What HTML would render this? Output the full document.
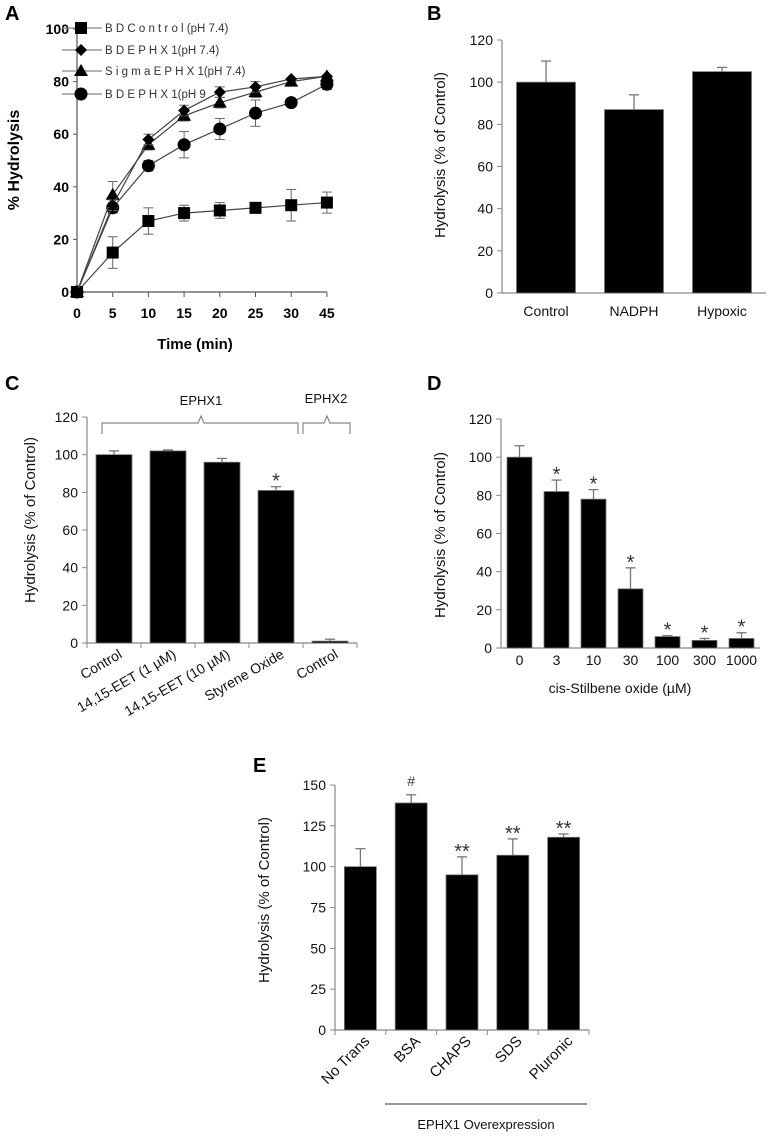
<!DOCTYPE html>
<html><head><meta charset="utf-8"><style>
body{margin:0;background:#fff}
svg{display:block;font-family:"Liberation Sans",Arial,sans-serif}
</style></head><body>
<svg id="s" width="768" height="1137" viewBox="0 0 768 1137"></svg>
<script>
// Panel A data
const aTimes=["0","5","10","15","20","25","30","45"];
const aControl=[0,15,27,30,31,32,33,34];
const aControlErr=[0,6,5,3,3,2,6,4];
const aEphx74=[0,33,58,69,76,78,81,82];
const aEphx74Err=[0,2,2,2,2,2,1,1];
const aSigma=[0,37,56,67,72,76,80,82];
const aSigmaErr=[0,5,2,2,2,2,1,1];
const aPh9=[0,32,48,56,62,68,72,79];
const aPh9Err=[0,2,2,5,4,5,1,2];
const aTicks=[0,20,40,60,80,100];
// Panel B
const bCats=["Control","NADPH","Hypoxic"];
const bVals=[100,87,105];
const bErr=[10,7,2];
const bTicks=[0,20,40,60,80,100,120];
// Panel C
const cCats=["Control","14,15-EET (1 µM)","14,15-EET (10 µM)","Styrene Oxide","Control"];
const cVals=[100,102,96,81,1];
const cErr=[2,0.5,2,2,1];
const cStar=["","","","*",""];
// Panel D
const dCats=["0","3","10","30","100","300","1000"];
const dVals=[100,82,78,31,6,4,5];
const dErr=[6,6,5,11,0.5,1,3];
const dStar=["","*","*","*","*","*","*"];
// Panel E
const eCats=["No Trans","BSA","CHAPS","SDS","Pluronic"];
const eVals=[100,139,95,107,118];
const eErr=[11,5,11,10,2];
const eStar=["","#","**","**","**"];
const eTicks=[0,25,50,75,100,125,150];

const S=document.getElementById('s');
const NS='http://www.w3.org/2000/svg';
function mk(tag,at,parent){const e=document.createElementNS(NS,tag);for(const k in at)e.setAttribute(k,at[k]);(parent||S).appendChild(e);return e;}
function txt(x,y,t,at,parent){const e=mk('text',Object.assign({x:x,y:y},at),parent);e.textContent=t;return e;}

function panelLabel(x,y,t){const e=txt(x,y,t,{'font-size':20,'font-weight':'bold'});

}

// ---------- Panel A ----------
(function(){
const g=mk('g',{});


const y0=292,yTop=29,x0=77,dx=35.7;
const Y=v=>y0-(v/100)*(y0-yTop);
const X=i=>x0+i*dx;
panelLabel(5,20,'A');
mk('line',{x1:x0,y1:24,x2:x0,y2:y0,stroke:'#555','stroke-width':1.2},g);
mk('line',{x1:x0,y1:y0,x2:X(7),y2:y0,stroke:'#555','stroke-width':1.2},g);
aTicks.forEach(t=>{mk('line',{x1:x0-4,y1:Y(t),x2:x0,y2:Y(t),stroke:'#555'},g);
const e=txt(x0-8,Y(t)+5,t,{'font-size':14,'font-weight':'bold','text-anchor':'end'},g);
});
aTimes.forEach((t,i)=>{mk('line',{x1:X(i),y1:y0,x2:X(i),y2:y0+5,stroke:'#555'},g);
const e=txt(X(i),y0+26,t,{'font-size':14,'font-weight':'bold','text-anchor':'middle'},g);
});
let e=txt(195,349,'Time (min)',{'font-size':15,'font-weight':'bold','text-anchor':'middle'},g);

e=txt(0,0,'% Hydrolysis',{'font-size':16,'font-weight':'bold','text-anchor':'middle',transform:'translate(19,160) rotate(-90)'},g);

function marker(shape,x,y,par){
 if(shape==='sq')return mk('rect',{x:x-6,y:y-6,width:12,height:12,fill:'#000'},par);
 if(shape==='ci')return mk('circle',{cx:x,cy:y,r:6.5,fill:'#000'},par);
 if(shape==='tr')return mk('polygon',{points:`${x},${y-7} ${x+7},${y+5} ${x-7},${y+5}`,fill:'#000'},par);
 return mk('polygon',{points:`${x},${y-6} ${x+6},${y} ${x},${y+6} ${x-6},${y}`,fill:'#000'},par);}
const series=[[aControl,aControlErr,'sq','series-bd-control'],[aPh9,aPh9Err,'ci','series-bd-ephx1-ph9'],[aSigma,aSigmaErr,'tr','series-sigma-ephx1'],[aEphx74,aEphx74Err,'di','series-bd-ephx1']];
series.forEach(([v,er,sh,name])=>{
 const sg=mk('g',{},g);
 
 
 mk('polyline',{points:v.map((d,i)=>X(i)+','+Y(d)).join(' '),fill:'none',stroke:'#444','stroke-width':1.2},sg);
 v.forEach((d,i)=>{if(er[i]>1){mk('line',{x1:X(i),y1:Y(d-er[i]),x2:X(i),y2:Y(d+er[i]),stroke:'#666'},sg);
  [d-er[i],d+er[i]].forEach(q=>mk('line',{x1:X(i)-5,y1:Y(q),x2:X(i)+5,y2:Y(q),stroke:'#666'},sg));}
  const m=marker(sh,X(i),Y(d),sg);
  
  });
});
const leg=[['sq','B D C o n t r o l (pH 7.4)',28],['di','B D E P H X 1(pH 7.4)',50],['tr','S i g m a E P H X 1(pH 7.4)',71],['ci','B D E P H X 1(pH 9',94]];
leg.forEach(([sh,t,y])=>{const lg=mk('g',{},g);
 
 
 mk('line',{x1:62,y1:y,x2:102,y2:y,stroke:'#888','stroke-width':1.2},lg);
 marker(sh,81,y,lg);
 txt(105,y+4,t,{'font-size':11.5,fill:'#333'},lg);});
})();

// ---------- generic bar chart ----------
function barChart(o){
 const g=mk('g',{});
 
 
 const Y=v=>o.y0-(v/o.max)*(o.y0-o.yTop);
 mk('line',{x1:o.x0,y1:o.yTop,x2:o.x0,y2:o.y0,stroke:'#888','stroke-width':1.2},g);
 mk('line',{x1:o.x0,y1:o.y0,x2:o.xEnd,y2:o.y0,stroke:'#888','stroke-width':1.2},g);
 o.ticks.forEach(t=>{mk('line',{x1:o.x0-5,y1:Y(t),x2:o.x0,y2:Y(t),stroke:'#888'},g);
  const e=txt(o.x0-9,Y(t)+5,t,{'font-size':14,'text-anchor':'end',fill:'#111'},g);
  });
 const n=o.vals.length;const step=(o.xEnd-o.x0)/n;
 if(o.cats){for(let i=0;i<=n;i++)if(o.xticks)mk('line',{x1:o.x0+i*step,y1:o.y0,x2:o.x0+i*step,y2:o.y0+5,stroke:'#888'},g);}
 o.vals.forEach((v,i)=>{
  const cx=o.x0+(i+0.5)*step,w=o.bw;
  const r=mk('rect',{x:cx-w/2,y:Y(v),width:w,height:o.y0-Y(v),fill:'#000',stroke:'#777','stroke-width':0.8},g);
  
  
  const er=o.err[i];
  if(er>0){mk('line',{x1:cx,y1:Y(v),x2:cx,y2:Y(v+er),stroke:'#777','stroke-width':1.3},g);
   mk('line',{x1:cx-5,y1:Y(v+er),x2:cx+5,y2:Y(v+er),stroke:'#777','stroke-width':1.3},g);}
  if(o.stars&&o.stars[i]){const e=txt(cx,Y(v+er)-5+(o.stars[i]==='#'?-4:6),o.stars[i],{'font-size':o.stars[i]==='#'?14:20,'text-anchor':'middle',fill:'#333'},g);
   }
  if(o.cats){let e;
   if(o.rot){e=txt(0,0,o.cats[i],{'font-size':o.fs||13,'text-anchor':'end',fill:'#111',transform:`translate(${cx+o.rdx},${o.y0+o.rdy}) rotate(${o.rot})`},g);}
   else e=txt(cx,o.y0+o.ly,o.cats[i],{'font-size':14,'text-anchor':'middle',fill:'#111'},g);
   }
 });
 const t=txt(0,0,o.ytitle,{'font-size':15,'text-anchor':'middle',fill:'#111',transform:`translate(${o.tx},${o.ty}) rotate(-90)`},g);
 
 return g;
}

panelLabel(427,20,'B');
barChart({name:'panel-b-bar-chart',x0:502,xEnd:766,y0:293,yTop:40,max:120,ticks:bTicks,vals:bVals,err:bErr,cats:bCats,bw:59,ly:23,ytitle:'Hydrolysis (% of Control)',tx:445,ty:155});

panelLabel(5,390,'C');
const gc=barChart({name:'panel-c-bar-chart',x0:87,xEnd:357,y0:643,yTop:417,max:120,ticks:bTicks,vals:cVals,err:cErr,stars:cStar,cats:cCats,bw:36,xticks:true,rot:-30,rdx:9,rdy:14,fs:14,ytitle:'Hydrolysis (% of Control)',tx:35,ty:520});
(function(){
 const b=mk('g',{},gc);
 
 
 mk('path',{d:'M102,434 L102,423 L198,423 L201,416 L204,423 L298,423 L298,434',fill:'none',stroke:'#888','stroke-width':1.2},b);
 mk('path',{d:'M303,434 L303,423 L324,423 L327,416 L330,423 L350,423 L350,434',fill:'none',stroke:'#888','stroke-width':1.2},b);
 txt(201,405,'EPHX1',{'font-size':13,'text-anchor':'middle',fill:'#111'},b);
 txt(326,403,'EPHX2',{'font-size':13,'text-anchor':'middle',fill:'#111'},b);
})();

panelLabel(427,390,'D');
const gd=barChart({name:'panel-d-bar-chart',x0:501,xEnd:760,y0:648,yTop:419,max:120,ticks:bTicks,vals:dVals,err:dErr,stars:dStar,cats:dCats,bw:25,ly:17,ytitle:'Hydrolysis  (% of Control)',tx:445,ty:535});
let dt=txt(620,693,'cis-Stilbene oxide (µM)',{'font-size':14,'text-anchor':'middle',fill:'#111'},gd);


panelLabel(253,772,'E');
const ge=barChart({name:'panel-e-bar-chart',x0:335,xEnd:589,y0:1030,yTop:785,max:150,ticks:eTicks,vals:eVals,err:eErr,stars:eStar,cats:eCats,bw:32,xticks:true,rot:-45,rdx:10,rdy:12,fs:15,ytitle:'Hydrolysis (% of Control)',tx:269,ty:900});
mk('line',{x1:385,y1:1104,x2:587,y2:1104,stroke:'#333','stroke-width':1},ge);
let et=txt(486,1129,'EPHX1 Overexpression',{'font-size':13,'text-anchor':'middle',fill:'#111'},ge);

</script>
</body></html>
